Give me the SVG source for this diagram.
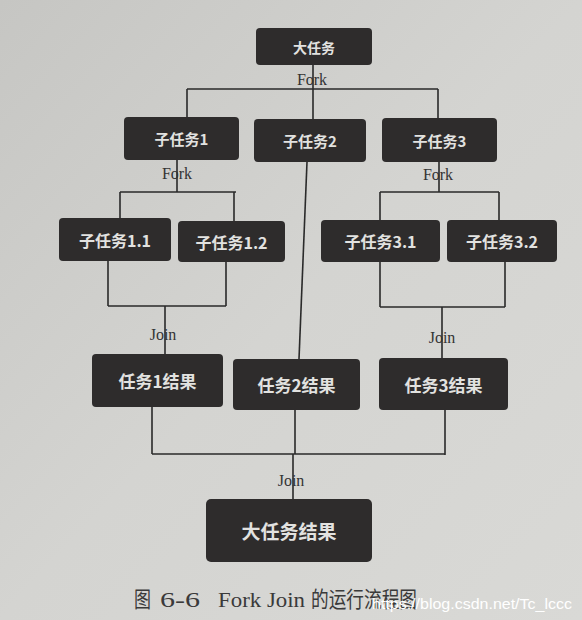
<svg xmlns="http://www.w3.org/2000/svg" width="582" height="620" viewBox="0 0 582 620">
<defs>
<linearGradient id="bg" x1="0" y1="0" x2="1" y2="1">
<stop offset="0" stop-color="#c6c6c3"/>
<stop offset="0.5" stop-color="#d4d4d1"/>
<stop offset="1" stop-color="#d9d9d6"/>
</linearGradient>
<style>
.box{fill:#2e2c2c;}
.t{fill:#e2e2e0;font-family:"Noto Sans CJK SC","Noto Sans",sans-serif;font-weight:bold;text-anchor:middle;dominant-baseline:central;}
.c{fill:none;stroke:#2a2a2a;stroke-width:1.6;}
.lbl{fill:#333;font-family:"Liberation Serif","DejaVu Serif",serif;font-size:16px;text-anchor:middle;}
.cap{fill:#3a3a3a;font-family:"Liberation Serif","Noto Sans CJK SC",serif;font-size:22px;}
</style>
</defs>
<rect x="0" y="0" width="582" height="620" fill="url(#bg)"/>

<g id="connectors">
<path class="c" d="M313 65V89M187 89H438M187 89V117M313 89V119M438 89V118"/>
<path class="c" d="M177 160V192M120 192H236M120 192V218M234 192V221"/>
<path class="c" d="M439 162V192M380 192H499M380 192V220M499 192V220"/>
<path class="c" d="M108 261V306M226 262V306M108 306H226M165 306V354"/>
<path class="c" d="M380 262V307M505 262V307M380 307H505M442 307V358"/>
<path class="c" d="M307 162L299 359"/>
<path class="c" d="M152 407V454M295 410V454M445 410V455M152 454H445M293 454V499"/>
<text class="lbl" x="312" y="85">Fork</text>
<text class="lbl" x="177" y="179">Fork</text>
<text class="lbl" x="438" y="180">Fork</text>
<text class="lbl" x="163" y="340">Join</text>
<text class="lbl" x="442" y="343">Join</text>
<text class="lbl" x="291" y="486">Join</text>
</g>

<g id="n-big"><rect class="box" x="256" y="28" width="116" height="37" rx="4"/><text class="t" x="314" y="46.5" font-size="14">大任务</text></g>
<g id="n-s1"><rect class="box" x="124" y="117" width="115" height="43" rx="4"/><text class="t" x="181.5" y="138.5" font-size="15">子任务1</text></g>
<g id="n-s2"><rect class="box" x="254" y="119" width="112" height="43" rx="4"/><text class="t" x="310" y="140.5" font-size="15">子任务2</text></g>
<g id="n-s3"><rect class="box" x="382" y="118" width="115" height="44" rx="4"/><text class="t" x="439.5" y="140" font-size="15">子任务3</text></g>
<g id="n-s11"><rect class="box" x="59" y="218" width="112" height="43" rx="4"/><text class="t" x="115" y="239.5" font-size="16">子任务1.1</text></g>
<g id="n-s12"><rect class="box" x="178" y="221" width="107" height="41" rx="4"/><text class="t" x="231.5" y="241.5" font-size="16">子任务1.2</text></g>
<g id="n-s31"><rect class="box" x="321" y="220" width="119" height="42" rx="4"/><text class="t" x="380.5" y="241" font-size="16">子任务3.1</text></g>
<g id="n-s32"><rect class="box" x="447" y="220" width="110" height="42" rx="4"/><text class="t" x="502" y="241" font-size="16">子任务3.2</text></g>
<g id="n-r1"><rect class="box" x="92" y="354" width="131" height="53" rx="4"/><text class="t" x="157.5" y="380.5" font-size="17">任务1结果</text></g>
<g id="n-r2"><rect class="box" x="233" y="359" width="127" height="51" rx="4"/><text class="t" x="296.5" y="384.5" font-size="17">任务2结果</text></g>
<g id="n-r3"><rect class="box" x="379" y="358" width="129" height="52" rx="4"/><text class="t" x="443.5" y="384" font-size="17">任务3结果</text></g>
<g id="n-final"><rect class="box" x="206" y="499" width="166" height="63" rx="5"/><text class="t" x="289" y="530.5" font-size="19">大任务结果</text></g>

<text class="cap" y="607"><tspan x="134" textLength="17" lengthAdjust="spacingAndGlyphs">图</tspan><tspan x="160" textLength="40" lengthAdjust="spacingAndGlyphs">6-6</tspan><tspan x="218" textLength="87" lengthAdjust="spacingAndGlyphs">Fork Join</tspan><tspan x="311" textLength="106" lengthAdjust="spacingAndGlyphs">的运行流程图</tspan></text>
<text x="372" y="609" fill="#ffffff" font-family="'Liberation Sans',Arial,sans-serif" font-size="15" textLength="200" lengthAdjust="spacingAndGlyphs">https://blog.csdn.net/Tc_lccc</text>
</svg>
